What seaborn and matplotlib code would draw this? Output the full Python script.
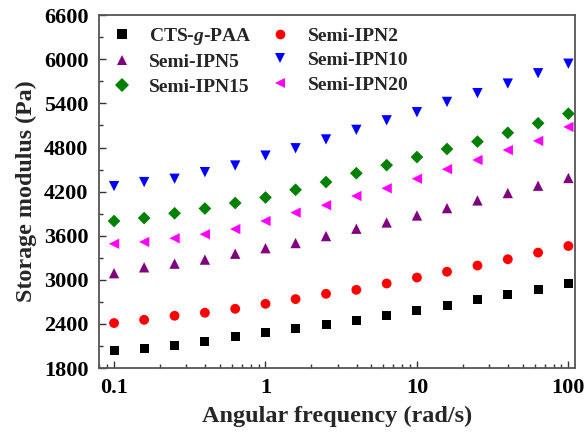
import matplotlib
matplotlib.use("Agg")
import matplotlib.pyplot as plt
from matplotlib.lines import Line2D
from matplotlib.ticker import MultipleLocator, LogLocator, NullFormatter
import numpy as np
import pandas as pd
import seaborn as sns

# angular frequency (rad/s), 5 points per decade
freq = [0.1, 0.158, 0.251, 0.398, 0.631, 1.0, 1.58, 2.51, 3.98, 6.31,
        10.0, 15.8, 25.1, 39.8, 63.1, 100.0]

# storage modulus (Pa)
cts_g_paa = [2035, 2062, 2107, 2167, 2225, 2284, 2334, 2398, 2452, 2515,
             2583, 2655, 2728, 2806, 2874, 2955]
semi_ipn2 = [2412, 2456, 2511, 2552, 2606, 2674, 2738, 2810, 2864, 2950,
             3031, 3110, 3194, 3280, 3370, 3460]
semi_ipn5 = [3090, 3170, 3220, 3275, 3355, 3430, 3500, 3595, 3695, 3780,
             3875, 3975, 4080, 4180, 4280, 4385]
semi_ipn10 = [4275, 4330, 4375, 4465, 4555, 4690, 4790, 4910, 5040, 5170,
              5280, 5420, 5540, 5670, 5810, 5940]
semi_ipn15 = [3800, 3840, 3905, 3970, 4045, 4120, 4225, 4330, 4450, 4560,
              4670, 4780, 4880, 5000, 5130, 5260]
semi_ipn20 = [3490, 3515, 3565, 3620, 3690, 3800, 3915, 4015, 4140, 4245,
              4375, 4505, 4630, 4765, 4890, 5080]

samples = ["CTS-g-PAA", "Semi-IPN2", "Semi-IPN5", "Semi-IPN10", "Semi-IPN15", "Semi-IPN20"]
series = [cts_g_paa, semi_ipn2, semi_ipn5, semi_ipn10, semi_ipn15, semi_ipn20]
colors = ["#000000", "#ff0000", "#800080", "#0000ff", "#008000", "#ff00ff"]
marker_list = ["s", "o", "^", "v", "D", "<"]
sizes = [42, 50, 55, 55, 42, 55]

x_ticks = [0.1, 1, 10, 100]
x_ticklabels = ["0.1", "1", "10", "100"]
y_ticks = [1800, 2400, 3000, 3600, 4200, 4800, 5400, 6000, 6600]

df = pd.DataFrame({
    "freq": np.tile(freq, len(samples)),
    "modulus": np.concatenate(series),
    "sample": np.repeat(samples, len(freq)),
})

sns.set_style("ticks")
plt.rcParams["font.family"] = ["Liberation Serif", "DejaVu Serif"]
plt.rcParams["font.weight"] = "bold"
plt.rcParams["mathtext.fontset"] = "custom"
plt.rcParams["mathtext.it"] = "Liberation Serif:bold:italic"
plt.rcParams["mathtext.rm"] = "Liberation Serif:bold"

fig, ax = plt.subplots(figsize=(5.88, 4.34), dpi=100)
fig.subplots_adjust(left=0.169, right=0.978, bottom=0.152, top=0.965)

for name, col, mk, sz in zip(samples, colors, marker_list, sizes):
    sub = df[df["sample"] == name]
    sns.scatterplot(data=sub, x="freq", y="modulus", color=col, marker=mk,
                    s=sz, edgecolor="none", linewidth=0, ax=ax, legend=False)

ax.set_xscale("log")
ax.set_xlim(0.08, 110.7)
ax.set_ylim(1800, 6600)
ax.set_xticks(x_ticks)
ax.set_xticklabels(x_ticklabels)
ax.xaxis.set_minor_locator(LogLocator(base=10, subs=np.arange(2, 10)))
ax.xaxis.set_minor_formatter(NullFormatter())
ax.set_yticks(y_ticks)
ax.yaxis.set_minor_locator(MultipleLocator(300))

ax.tick_params(which="both", direction="in", colors="#333333", labelcolor="black",
               labelsize=16, width=1.0)
ax.tick_params(which="major", length=5)
ax.tick_params(axis="y", which="major", pad=8)
ax.tick_params(axis="x", which="major", pad=7)
ax.tick_params(which="minor", length=3)
for lab in ax.get_xticklabels() + ax.get_yticklabels():
    lab.set_fontweight("bold")
for sp in ax.spines.values():
    sp.set_color("#555555")
    sp.set_linewidth(1.3)

ax.set_xlabel("Angular frequency (rad/s)", fontsize=17.5, fontweight="bold", labelpad=6)
ax.set_ylabel("Storage modulus (Pa)", fontsize=17.3, fontweight="bold", labelpad=5)

# legend: two columns, filled row by row like the original
legend_names = ["CTS-$\\mathit{g}$-PAA", "Semi-IPN2", "Semi-IPN5", "Semi-IPN10",
                "Semi-IPN15", "Semi-IPN20"]
handles = [Line2D([], [], linestyle="none", marker=mk, color=col, markersize=7,
                  markeredgewidth=0)
           for mk, col in zip(marker_list, colors)]
order = [0, 2, 4, 1, 3, 5]
ax.legend([handles[i] for i in order], [legend_names[i] for i in order],
          ncol=2, frameon=False, loc="upper left", bbox_to_anchor=(0.0, 1.0),
          handlelength=1.2, handletextpad=0.8, columnspacing=0.88,
          labelspacing=0.35, borderaxespad=0.15,
          prop={"weight": "bold", "size": 14})

fig.savefig("out.png", dpi=100)
